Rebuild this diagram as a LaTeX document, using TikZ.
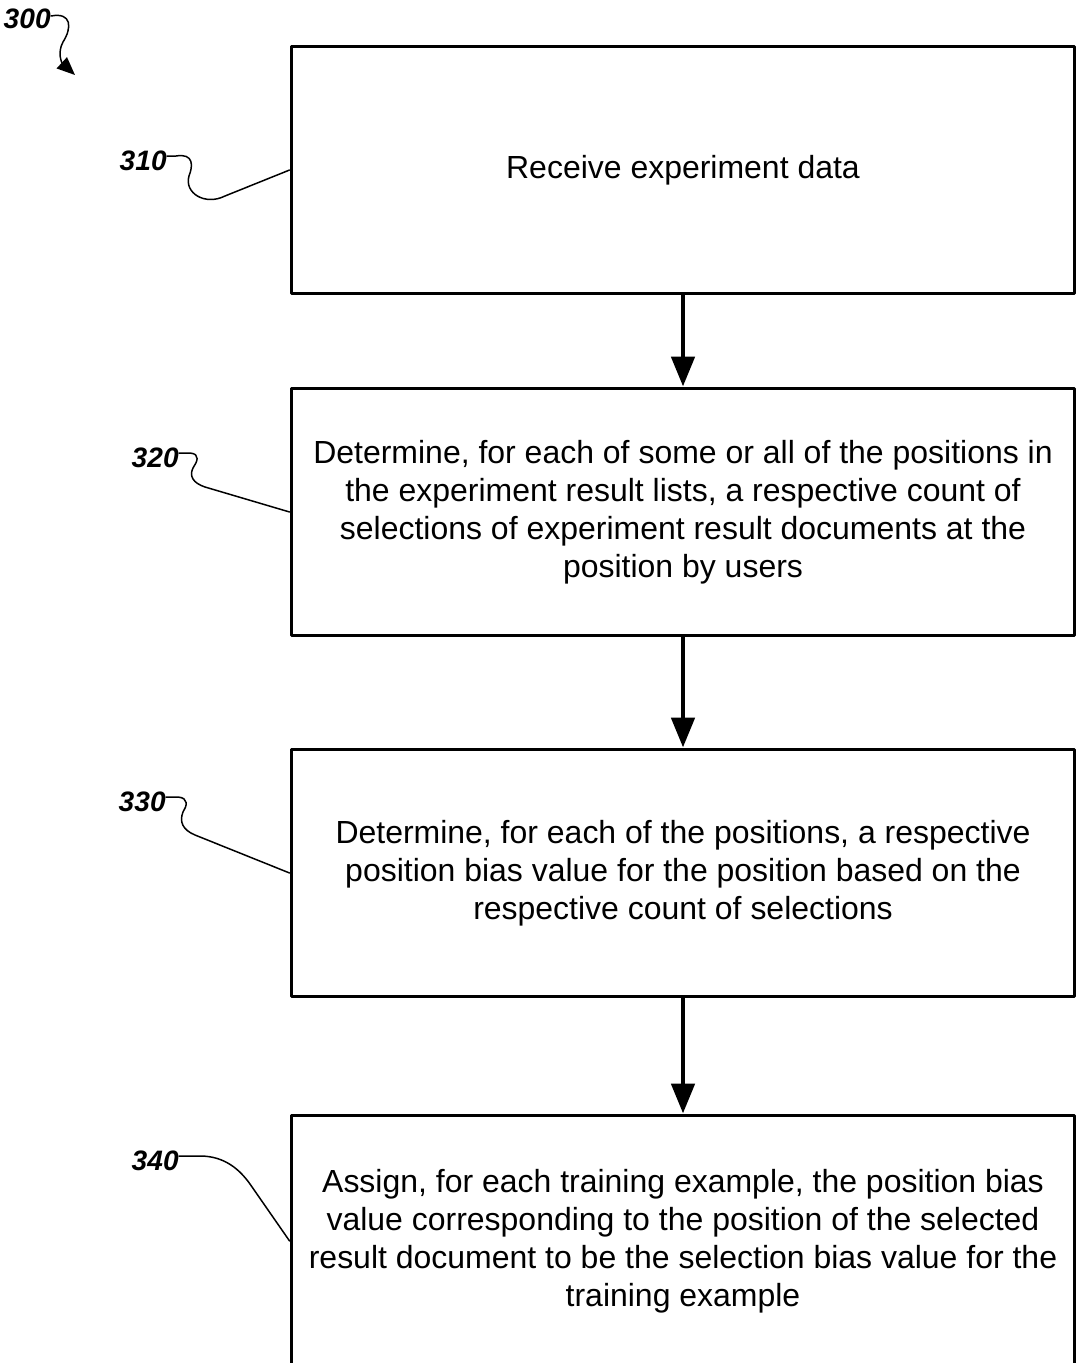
\documentclass[tikz,border=0pt]{standalone}
\usepackage{fontspec}
\setmainfont{Liberation Sans}
\usetikzlibrary{arrows.meta}
\tikzset{
	box/.style = {draw, line width = 1.7pt, minimum width = 15.68cm, minimum height = 4.96cm, inner sep = 0pt, align = center, font = \fontsize{18.2}{21.6}\selectfont},
	flow/.style = {line width = 2.8pt, -{Triangle[length = 0.6cm, width = 0.46cm]}},
	lbl/.style = {inner sep = 0pt, font = \fontsize{16}{18}\selectfont\bfseries\itshape},
	lead/.style = {line width = 0.85pt}
}
\begin{document}
\begin{tikzpicture}[x = 0.02cm, y = -0.02cm, line join = round, line cap = round]
	\useasboundingbox (0,0) rectangle (1077,1363);
	\clip (0,0) rectangle (1077,1363);
	%Boxes
	\node[box] (b310) at (683,170) {Receive experiment data};
	\node[box] (b320) at (683,512) {Determine, for each of some or all of the positions in\\
		the experiment result lists, a respective count of\\
		selections of experiment result documents at the\\
		position by users};
	\node[box] (b330) at (683,873) {Determine, for each of the positions, a respective\\
		position bias value for the position based on the\\
		respective count of selections};
	\node[box, minimum height = 5.04cm] (b340) at (683,1241) {Assign, for each training example, the position bias\\
		value corresponding to the position of the selected\\
		result document to be the selection bias value for the\\
		training example};
	%Arrows between boxes
	\draw[flow] (b310.south) -- (b320.north);
	\draw[flow] (b320.south) -- (b330.north);
	\draw[flow] (b330.south) -- (b340.north);
	%Reference numbers
	\node[lbl, anchor = south east] (l300) at (51,29) {300};
	\node[lbl, anchor = south east] (l310) at (167,171) {310};
	\node[lbl, anchor = south east] (l320) at (179,468) {320};
	\node[lbl, anchor = south east] (l330) at (166,812) {330};
	\node[lbl, anchor = south east] (l340) at (179,1171) {340};
	%Leader lines
	\draw[lead, -{Triangle[length = 0.36cm, width = 0.3cm]}] (l300.east |- 0,16) .. controls (72,12) and (72,28) .. (63,42) .. controls (57,53) and (62,63) .. (75,75);
	\draw[lead] (l310.east |- 0,156) -- (176,156) .. controls (194,153) and (193,166) .. (189,176) .. controls (184,193) and (205,206) .. (225,196) -- (b310.west);
	\draw[lead] (l320.east |- 0,453) -- (190,453) .. controls (201,454) and (197,462) .. (193,468) .. controls (189,476) and (193,483) .. (205,487) -- (b320.west);
	\draw[lead] (l330.east |- 0,797) -- (178,797) .. controls (189,798) and (187,806) .. (183,812) .. controls (179,822) and (183,830) .. (195,835) -- (b330.west);
	\draw[lead] (l340.east |- 0,1156) -- (200,1156) .. controls (225,1156) and (240,1170) .. (250,1184) -- (b340.west);
\end{tikzpicture}
\end{document}
